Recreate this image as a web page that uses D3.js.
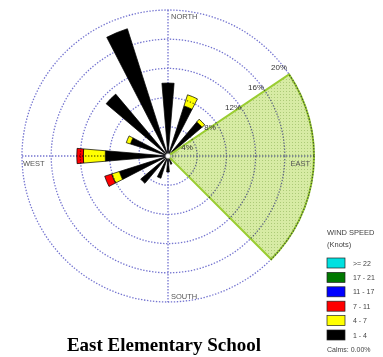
<!DOCTYPE html>
<html>
<head>
<meta charset="utf-8">
<script src="https://cdn.jsdelivr.net/npm/d3@7"></script>
<style>
  html, body { margin: 0; padding: 0; background: #fff; overflow: hidden; }
  svg { display: block; }
  text { font-family: "Liberation Sans", Arial, sans-serif; }
</style>
</head>
<body>
<svg id="chart" width="383" height="357"></svg>
<script>
// Wind directions (compass bearings, 16 points)
const directions = ["N","NNE","NE","ENE","E","ESE","SE","SSE","S","SSW","SW","WSW","W","WNW","NW","NNW"];
const bearings   = [0, 22.5, 45, 67.5, 90, 112.5, 135, 157.5, 180, 202.5, 225, 247.5, 270, 292.5, 315, 337.5];

// Frequency (%) per speed class, per direction
const speed1to4  = [10.0, 7.2, 6.1, 1.4, 1.0, 1.0, 0.8, 1.2, 2.2, 3.2, 4.9, 7.0, 8.6, 5.4, 11.1, 18.3];
const speed4to7  = [0,    1.6, 0.5, 0,   0,   0,   0,   0,   0,   0,   0,   1.1, 3.0, 0.6, 0,    0];
const speed7to11 = [0,    0,   0,   0,   0,   0,   0,   0,   0,   0,   0,   1.0, 0.9, 0,   0,    0];

const speedClasses = ["1 - 4", "4 - 7", "7 - 11", "11 - 17", "17 - 21", ">= 22"];
const speedColors  = ["#000000", "#ffff00", "#ff0000", "#0000ff", "#007800", "#00e0e0"];

// Highlighted sector (bearing range, extent in %)
const sectorFrom = 56;
const sectorTo = 135;
const sectorValue = 20;

const ringValues = [4, 8, 12, 16, 20];
const ringLabels = ["4%", "8%", "12%", "16%", "20%"];
const compassLabels = ["NORTH", "EAST", "SOUTH", "WEST"];
const calms = "Calms: 0.00%";
const title = "East Elementary School";

const svg = d3.select("#chart");
const cx = 168, cy = 156;
const r = d3.scaleLinear().domain([0, 20]).range([0, 146]);
const rad = d => d * Math.PI / 180;

const defs = svg.append("defs");
const pat = defs.append("pattern").attr("id", "dots")
  .attr("width", 3).attr("height", 3).attr("patternUnits", "userSpaceOnUse");
pat.append("rect").attr("width", 3).attr("height", 3).attr("fill", "#d3e99a");
pat.append("rect").attr("x", 1).attr("y", 1).attr("width", 1).attr("height", 1).attr("fill", "#a3c468");

const g = svg.append("g").attr("transform", `translate(${cx},${cy})`);

// Petals: stacked sectors, one per direction
const halfWidth = 4.8;
const arc = d3.arc();
const layers = [speed1to4, speed4to7, speed7to11];
const petals = g.append("g");
bearings.forEach((b, i) => {
  let acc = 0;
  layers.forEach((layer, k) => {
    const v = layer[i];
    if (v <= 0) return;
    petals.append("path")
      .attr("d", arc({
        innerRadius: r(acc), outerRadius: r(acc + v),
        startAngle: rad(b - halfWidth), endAngle: rad(b + halfWidth)
      }))
      .attr("fill", speedColors[k])
      .attr("stroke", "#000").attr("stroke-width", 0.7);
    acc += v;
  });
});

// Highlighted sector
g.append("path")
  .attr("d", arc({ innerRadius: 0, outerRadius: r(sectorValue),
                   startAngle: rad(sectorFrom), endAngle: rad(sectorTo) }))
  .attr("fill", "url(#dots)").attr("fill-opacity", 0.9)
  .attr("stroke", "#9acd32").attr("stroke-width", 2);

// Grid rings and axes
const gridStyle = sel => sel.attr("stroke", "#7474d0").attr("stroke-width", 1.3)
  .attr("stroke-dasharray", "1.4 1.6").attr("fill", "none");
const grid = g.append("g").style("mix-blend-mode", "multiply");
grid.selectAll("circle.ring").data(ringValues).join("circle")
  .attr("r", d => r(d)).call(gridStyle);
grid.append("line").attr("x1", 0).attr("x2", 0).attr("y1", -r(20)).attr("y2", r(20)).call(gridStyle);
grid.append("line").attr("y1", 0).attr("y2", 0).attr("x1", -r(20)).attr("x2", r(20)).call(gridStyle);

g.append("circle").attr("r", 2.5).attr("fill", "#fff").attr("stroke", "#888").attr("stroke-width", 0.5);

// Ring labels, stepped out along the upper-right diagonal
const labAng = rad(52);
g.selectAll("text.ringlab").data(ringValues).join("text")
  .attr("x", d => r(d) * Math.sin(labAng) - 4)
  .attr("y", d => -r(d) * Math.cos(labAng) + 11.5 - 0.5 * d)
  .attr("text-anchor", "middle").attr("dominant-baseline", "central")
  .attr("font-size", 8).attr("fill", "#333")
  .text((d, i) => ringLabels[i]);

// Compass labels
const R = r(20);
const comp = [
  { t: compassLabels[0], x: 3,      y: -R + 9,  a: "start" },
  { t: compassLabels[1], x: R - 4,  y: 10,      a: "end" },
  { t: compassLabels[2], x: 3,      y: R - 3,   a: "start" },
  { t: compassLabels[3], x: -R + 1, y: 10,      a: "start" }
];
g.selectAll("text.comp").data(comp).join("text")
  .attr("x", d => d.x).attr("y", d => d.y).attr("text-anchor", d => d.a)
  .attr("font-size", 7.5).attr("fill", "#555").text(d => d.t);

// Legend
const lg = svg.append("g").attr("transform", "translate(327,0)");
lg.append("text").attr("x", 0).attr("y", 235).attr("font-size", 7.5).attr("fill", "#444").text("WIND SPEED");
lg.append("text").attr("x", 0).attr("y", 247).attr("font-size", 7.5).attr("fill", "#444").text("(Knots)");
const order = d3.range(speedClasses.length).reverse();
const ly = d3.scalePoint().domain(order).range([258, 330]);
order.forEach(k => {
  lg.append("rect").attr("x", 0).attr("y", ly(k)).attr("width", 18).attr("height", 10)
    .attr("fill", speedColors[k]).attr("stroke", "#222").attr("stroke-width", 0.7);
  lg.append("text").attr("x", 26).attr("y", ly(k) + 7.5).attr("font-size", 7)
    .attr("fill", "#444").text(speedClasses[k]);
});
lg.append("text").attr("x", 0).attr("y", 352).attr("font-size", 7).attr("fill", "#444").text(calms);

// Title
svg.append("text").attr("x", 164).attr("y", 351).attr("text-anchor", "middle")
  .style("font-family", "'Liberation Serif', 'Times New Roman', serif")
  .attr("font-weight", "bold").attr("font-size", 19).attr("fill", "#000").text(title);
</script>
</body>
</html>
